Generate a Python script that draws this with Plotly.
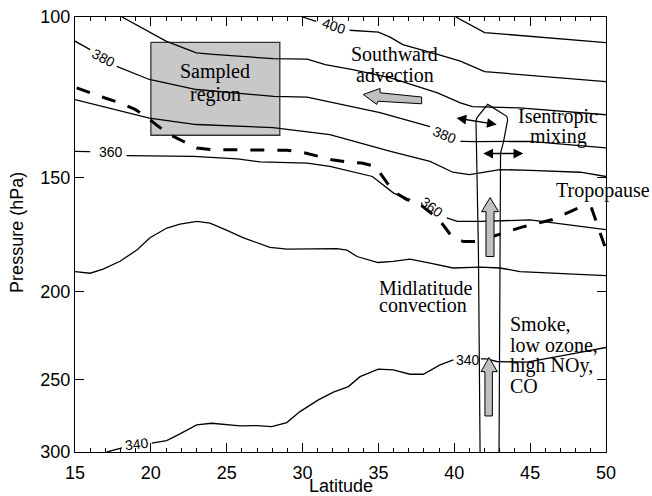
import numpy as np
import plotly.graph_objects as go

# ---------------- data (latitude in degrees, pressure in hPa) ----------------
lat_410 = [40.1, 41.0, 42.0, 50.0]
p_410 = [100.0, 101.9, 104.0, 106.7]

lat_400 = [30.0, 30.9, None, 33.1, 35.0, 35.8, 36.6, 38.9, 40.4, 42.0, 50.0]
p_400 = [100.0, 101.1, None, 103.4, 103.9, 105.3, 107.2, 109.9, 111.8, 114.8, 117.7]

lat_390 = [18.1, 21.0, 23.0, 24.1, 28.05, 30.3, 31.5, 33.3, 35.8, 38.9, 40.4, 41.2, 44.3, 50.0]
p_390 = [100.0, 106.3, 109.5, 109.9, 111.1, 111.2, 112.8, 114.2, 116.6, 121.1, 124.2, 125.4, 125.8, 128.0]

lat_380 = [15.0, 16.0, None, 17.75, 19.9, 23.0, 28.1, 30.3, 33.8, 35.1, 38.4, None, 40.4, 41.5, 45.0, 50.0]
p_380 = [106.3, 108.6, None, 113.3, 117.1, 120.1, 122.2, 122.4, 125.8, 127.3, 131.9, None, 136.9, 137.0, 136.9, 139.2]

lat_370 = [15.0, 19.9, 23.0, 28.05, 31.8, 35.8, 38.4, 39.9, 41.0, 43.0, 45.0, 48.3, 50.0]
p_370 = [123.2, 129.1, 131.2, 132.2, 134.6, 140.4, 144.0, 148.0, 148.9, 147.0, 147.3, 148.0, 149.6]

lat_360 = [15.0, 16.0, None, 18.4, 22.8, 25.7, 27.2, 30.3, 31.8, 34.6, 36.0, 37.1, None, 39.5, 40.2, 41.7, 45.0, 50.0]
p_360 = [140.4, 140.5, None, 141.9, 142.2, 143.1, 144.2, 144.6, 145.8, 149.6, 156.0, 158.6, None, 166.1, 167.6, 167.6, 166.9, 171.1]

lat_350 = [15.0, 16.0, 16.85, 17.97, 19.1, 19.94, 21.06, 21.92, 23.04, 23.9, 25.02, 26.07, 27.85, 28.98,
           32.27, 32.93, 33.59, 34.97, 35.96, 37.08, 38.4, 39.92, 41.7, 43.02, 44.33, 50.0]
p_350 = [190.2, 191.0, 189.0, 185.3, 180.0, 174.6, 170.4, 168.7, 167.6, 168.3, 171.4, 174.6, 178.9, 179.7,
         179.5, 180.2, 183.1, 185.9, 185.4, 184.3, 186.2, 188.5, 188.1, 188.5, 190.2, 192.2]

lat_340 = [17.1, 18.1, None, 20.06, 21.04, 21.92, 23.02, 24.01, 25.88, 26.98, 27.97, 28.96, 29.83, 31.04,
           32.03, 33.02, 33.79, 34.99, 35.98, 37.08, 37.96, 39.06, 39.94, None, 41.76, 42.14, 42.8, 44.78,
           47.41, 50.0]
p_340 = [300.0, 296.9, None, 293.4, 291.5, 286.6, 280.2, 279.0, 280.9, 280.7, 281.4, 278.5, 270.9, 263.0,
         257.9, 254.3, 248.0, 243.4, 243.8, 246.5, 246.5, 240.8, 237.7, None, 237.1, 237.1, 238.7, 239.1,
         234.7, 230.4]

contour_lats = [lat_410, lat_400, lat_390, lat_380, lat_370, lat_360, lat_350, lat_340]
contour_ps = [p_410, p_400, p_390, p_380, p_370, p_360, p_350, p_340]

lat_tropopause = [15.11, 15.99, 16.98, 17.97, 18.96, 19.61, 20.49, 21.26, 22.14, 23.02, 24.01, 26.98,
                  28.96, 30.05, 31.04, 31.92, 32.91, 33.90, 34.78, 35.44, 35.98, 36.87, 37.63, 38.60,
                  39.17, 39.83, 40.60, 41.57, 42.55, 44.45, 46.42, 48.18, 49.06, 49.39, 49.72, 50.0]
p_tropopause = [119.6, 121.1, 122.7, 124.2, 126.3, 128.3, 131.8, 134.6, 136.9, 139.2, 139.8, 139.8,
                140.0, 140.8, 142.2, 143.4, 144.2, 144.6, 145.8, 150.8, 155.3, 158.6, 160.0, 164.8,
                168.3, 174.0, 176.3, 176.3, 174.0, 170.0, 166.9, 162.0, 162.3, 168.3, 174.8, 180.0]

lat_plume = [41.70, 41.59, 41.43, 41.50, 42.20, 43.46, 43.52, 43.23, 43.05, 43.02, 42.95]
p_plume = [300.0, 180.0, 130.1, 128.9, 124.7, 128.5, 129.6, 137.4, 140.9, 180.0, 300.0]

lat_box = [20.0, 28.5, 28.5, 20.0, 20.0]
p_box = [106.6, 106.6, 134.8, 134.8, 106.6]

lat_arrow_south = [34.0, 35.11, 35.11, 37.85, 37.85, 34.97, 34.89, 34.0]
p_arrow_south = [121.6, 119.8, 121.1, 122.4, 124.5, 123.7, 124.7, 121.6]

lat_arrow_up1 = [42.36, 42.92, 42.62, 42.62, 42.09, 42.09, 41.80, 42.36]
p_arrow_up1 = [157.8, 163.5, 163.5, 183.1, 183.1, 163.5, 163.5, 157.8]

lat_arrow_up2 = [42.29, 42.84, 42.51, 42.51, 42.02, 42.02, 41.76, 42.29]
p_arrow_up2 = [236.3, 244.9, 244.9, 273.9, 273.9, 244.9, 244.9, 236.3]

# double-headed mixing arrows: (lat0, p0, lat1, p1)
mixing_arrows = [(40.05, 129.0, 42.80, 131.2), (41.81, 141.2, 44.55, 141.2)]

# contour labels: (text, lat, p, angle)
contour_labels = [
    ("400", 32.07, 102.4, 18),
    ("380", 16.91, 110.8, 28),
    ("380", 39.39, 134.6, 22),
    ("360", 17.36, 140.7, 0),
    ("360", 38.51, 161.6, 38),
    ("340", 19.07, 293.9, -6),
    ("340", 40.91, 237.7, 0),
]

# text notes: (text, lat, p, xanchor)
notes = [
    ("Sampled", 24.23, 114.8, "center"),
    ("region", 24.23, 121.6, "center"),
    ("Southward", 36.09, 109.9, "center"),
    ("advection", 36.09, 115.9, "center"),
    ("Isentropic", 46.81, 128.6, "center"),
    ("mixing", 46.84, 135.2, "center"),
    ("Tropopause", 49.83, 154.9, "center"),
    ("Midlatitude", 34.95, 198.3, "left"),
    ("convection", 34.95, 207.0, "left"),
    ("Smoke,", 43.63, 217.0, "left"),
    ("low ozone,", 43.63, 228.7, "left"),
    ("high NOy,", 43.63, 241.2, "left"),
    ("CO", 43.63, 254.1, "left"),
]

x_ticks = [15, 20, 25, 30, 35, 40, 45, 50]
y_ticks = [100, 150, 200, 250, 300]

SANS = "Liberation Sans, Arial, Helvetica, sans-serif"
SERIF = "Liberation Serif, Times New Roman, serif"

fig = go.Figure()

# sampled region box
fig.add_trace(go.Scatter(x=lat_box, y=p_box, mode="lines", fill="toself",
                         fillcolor="#c8c8c8", line=dict(color="#333333", width=1.3),
                         hoverinfo="skip", showlegend=False))

for la, pp in zip(contour_lats, contour_ps):
    fig.add_trace(go.Scatter(x=la, y=pp, mode="lines", connectgaps=False,
                             line=dict(color="black", width=1.3), showlegend=False))

fig.add_trace(go.Scatter(x=lat_plume, y=p_plume, mode="lines",
                         line=dict(color="black", width=1.2), showlegend=False))

fig.add_trace(go.Scatter(x=lat_tropopause, y=p_tropopause, mode="lines",
                         line=dict(color="black", width=3, dash="14px,13px"), showlegend=False))

for la, pp in [(lat_arrow_south, p_arrow_south), (lat_arrow_up1, p_arrow_up1), (lat_arrow_up2, p_arrow_up2)]:
    fig.add_trace(go.Scatter(x=la, y=pp, mode="lines", fill="toself", fillcolor="#c0c0c0",
                             line=dict(color="black", width=1), showlegend=False))

annotations = []
for t, la, pp, ang in contour_labels:
    annotations.append(dict(x=la, y=np.log10(pp), xref="x", yref="y", text=t, showarrow=False,
                            textangle=ang, font=dict(family=SANS, size=14, color="black"),
                            xanchor="center", yanchor="middle"))
for t, la, pp, xa in notes:
    annotations.append(dict(x=la, y=np.log10(pp), xref="x", yref="y", text=t, showarrow=False,
                            font=dict(family=SERIF, size=20, color="black"),
                            xanchor=xa, yanchor="middle", borderpad=0))
for la0, p0, la1, p1 in mixing_arrows:
    annotations.append(dict(x=la1, y=np.log10(p1), ax=la0, ay=np.log10(p0), xref="x", yref="y",
                            axref="x", ayref="y", text="", showarrow=True, arrowhead=2,
                            arrowside="end+start", arrowsize=1.3, arrowwidth=1.5, arrowcolor="black"))

# axis titles as paper annotations
annotations.append(dict(x=0.5, y=-0.078, xref="paper", yref="paper", text="Latitude", showarrow=False,
                        font=dict(family=SANS, size=18, color="black"), xanchor="center", yanchor="middle",
                        borderpad=0))
annotations.append(dict(x=-0.109, y=0.504, xref="paper", yref="paper", text="Pressure (hPa)",
                        showarrow=False, textangle=-90,
                        font=dict(family=SANS, size=18, color="black"), xanchor="center", yanchor="middle"))

fig.update_layout(
    width=652, height=496,
    margin=dict(l=75, r=46, t=17, b=44, autoexpand=False),
    paper_bgcolor="white", plot_bgcolor="white",
    showlegend=False,
    annotations=annotations,
    font=dict(family=SANS, color="black"),
)

fig.update_xaxes(range=[15, 50], tickvals=x_ticks, ticktext=[str(v) for v in x_ticks],
                 ticks="inside", ticklen=9, tickwidth=1, tickcolor="black",
                 minor=dict(ticks="inside", ticklen=4, dtick=1, tickcolor="black", tickwidth=1),
                 mirror="ticks", showline=True, linecolor="black", linewidth=1.3,
                 showgrid=False, zeroline=False, automargin=False, ticklabelstandoff=4,
                 tickfont=dict(family=SANS, size=18, color="black"))

fig.update_yaxes(type="log", range=[np.log10(300), 2], tickvals=y_ticks,
                 ticktext=[str(v) for v in y_ticks],
                 ticks="inside", ticklen=9, tickwidth=1, tickcolor="black",
                 mirror="ticks", showline=True, linecolor="black", linewidth=1.3,
                 showgrid=False, zeroline=False, automargin=False,
                 tickfont=dict(family=SANS, size=18, color="black"))

fig.write_html("out.html", config={"displayModeBar": False},
               post_script="document.body.style.margin='0';")
